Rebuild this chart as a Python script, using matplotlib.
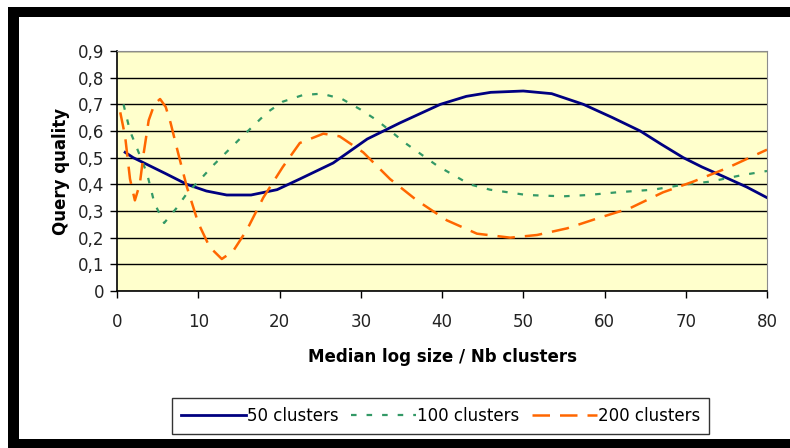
import matplotlib
matplotlib.use("Agg")
import matplotlib.pyplot as plt
from matplotlib.patches import Rectangle

# values
x50 = [1, 2, 4, 6, 8.6, 11, 13.5, 16.5, 19.7, 22.5, 26.6, 30.8, 34.8, 39.8, 43, 46, 50,
       53.5, 57.4, 61, 64.4, 67, 69.7, 72, 74.6, 77.5, 80]
y50 = [0.52, 0.50, 0.47, 0.44, 0.40, 0.375, 0.36, 0.36, 0.38, 0.42, 0.48, 0.57, 0.63, 0.70,
       0.73, 0.745, 0.75, 0.74, 0.70, 0.65, 0.60, 0.55, 0.50, 0.465, 0.43, 0.39, 0.35]

x100 = [0.8, 1.6, 2.4, 3.7, 4.6, 5.8, 7.3, 8.7, 10, 11.8, 15.1, 18.5, 20.4, 22.9, 25.2, 27.7,
        30, 32, 35.7, 39.4, 41.4, 43.4, 45.9, 50.4, 54.9, 58, 61.5, 66, 70, 73, 77, 80]
y100 = [0.70, 0.60, 0.54, 0.44, 0.33, 0.255, 0.31, 0.37, 0.41, 0.47, 0.57, 0.67, 0.71, 0.735,
        0.74, 0.72, 0.68, 0.64, 0.55, 0.47, 0.435, 0.40, 0.38, 0.36, 0.355, 0.36, 0.37, 0.38,
        0.40, 0.41, 0.435, 0.45]

x200 = [0.4, 1.0, 1.6, 2.2, 2.8, 3.3, 3.9, 4.6, 5.3, 6.0, 6.6, 7.5, 8.6, 10, 11.4, 12.9, 14.3,
        16, 18, 20.4, 22.5, 25.4, 27.4, 30.3, 33.6, 36.9, 40.6, 44.3, 48.4, 51.7, 55.4, 59.4,
        63.1, 67.2, 70.9, 75, 80]
y200 = [0.67, 0.58, 0.42, 0.34, 0.40, 0.52, 0.64, 0.70, 0.72, 0.69, 0.63, 0.52, 0.39, 0.255,
        0.165, 0.12, 0.15, 0.23, 0.35, 0.465, 0.555, 0.59, 0.58, 0.52, 0.42, 0.34, 0.265, 0.215,
        0.20, 0.21, 0.235, 0.275, 0.31, 0.37, 0.41, 0.46, 0.53]

xticks = [0, 10, 20, 30, 40, 50, 60, 70, 80]
yticks = [0, 0.1, 0.2, 0.3, 0.4, 0.5, 0.6, 0.7, 0.8, 0.9]
ytick_labels = ["0", "0,1", "0,2", "0,3", "0,4", "0,5", "0,6", "0,7", "0,8", "0,9"]

plt.rcParams['font.family'] = ['DejaVu Sans']

W, H = 790, 448
fig = plt.figure(figsize=(W / 100, H / 100), dpi=100)

# black frame round the chart
def band(x0, y0, x1, y1):
    fig.patches.append(Rectangle((x0 / W, 1 - y1 / H), (x1 - x0) / W, (y1 - y0) / H,
                                 transform=fig.transFigure, facecolor='black',
                                 edgecolor='none', zorder=0))

band(8, 7, W, 17)
band(8, 7, 19, 441)
band(8, 439, W, H)

ax = fig.add_axes([117 / W, 1 - 291 / H, (767 - 117) / W, (291 - 51) / H])
ax.set_facecolor('#FFFFCC')

ax.plot(x50, y50, color='#000080', lw=2.0, label='50 clusters')
ax.plot(x100, y100, color='#339966', lw=1.6, dashes=(2.5, 4.5), label='100 clusters')
ax.plot(x200, y200, color='#FF6600', lw=1.8, dashes=(7, 4), label='200 clusters')

ax.set_xlim(0, 80)
ax.set_ylim(0, 0.9)
ax.set_xticks(xticks)
ax.set_yticks(yticks)
ax.set_yticklabels(ytick_labels)
ax.yaxis.grid(True, color='black', lw=1.0)
ax.set_axisbelow(True)

for s in ['top', 'right']:
    ax.spines[s].set_color('#8c8c8c')
for s in ['left', 'bottom']:
    ax.spines[s].set_color('black')
    ax.spines[s].set_linewidth(1.2)

ax.tick_params(axis='both', direction='out', length=5, width=1, labelsize=12,
               labelcolor='#222222')
ax.tick_params(axis='x', pad=11)
ax.tick_params(axis='y', pad=4)

ax.set_xlabel('Median log size / Nb clusters', fontsize=12, fontweight='bold', labelpad=12)
ax.set_ylabel('Query quality', fontsize=12, fontweight='bold', labelpad=6)

leg = fig.legend(loc='center', bbox_to_anchor=(440.5 / W, 1 - 416 / H), ncol=3,
                 fontsize=12, frameon=True, fancybox=False, handlelength=3.9,
                 handletextpad=0.05, columnspacing=0.75, borderpad=0.55)
leg.get_frame().set_edgecolor('black')
leg.get_frame().set_linewidth(1.0)

fig.savefig('out.png', dpi=100)
